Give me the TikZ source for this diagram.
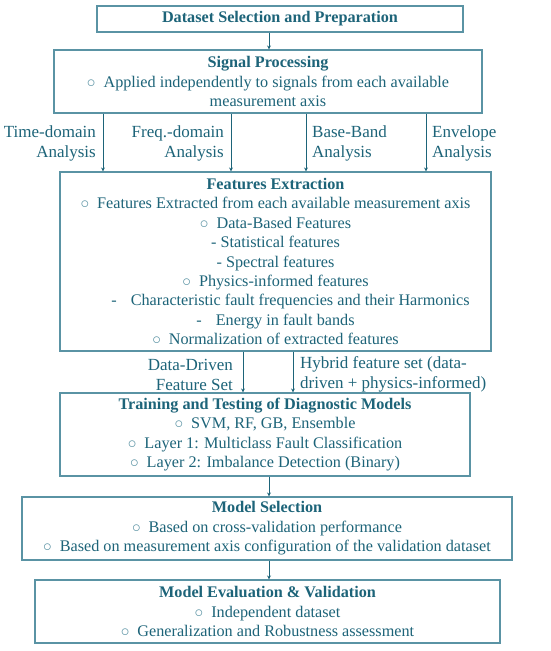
\documentclass[tikz,border=0pt]{standalone}
\usepackage{fontspec}
\setmainfont{Liberation Serif}
\usetikzlibrary{arrows.meta}
\definecolor{tealtxt}{HTML}{1D6479}
\definecolor{tealline}{HTML}{5A93A4}
\newcommand{\bul}{{\color{tealline}$\circ$}\hspace{8pt}}
\begin{document}
\begin{tikzpicture}[x=1pt,y=-1pt,
  box/.style={draw=tealline, line width=1.1pt, text=tealtxt, align=center, inner sep=0pt, font=\fontsize{16.2}{19.4}\selectfont},
  lbl/.style={text=tealtxt, inner sep=0pt, font=\fontsize{17}{20}\selectfont},
  arr/.style={-{Stealth[length=4pt,width=4pt]}, draw=tealtxt, line width=1pt}]
\useasboundingbox[fill=white] (0,0) rectangle (550,651);

\node[box, minimum width=366, minimum height=26] (ds) at (280,19) {\textbf{Dataset Selection and Preparation}};

\node[box, minimum width=428, minimum height=63] (sp) at (268,81.5)
 {\textbf{Signal Processing}\\
  \bul Applied independently to signals from each available\\
  measurement axis};

\node[box, minimum width=431, minimum height=179] (fe) at (275.5,261.5)
 {\textbf{Features Extraction}\\
  \bul Features Extracted from each available measurement axis\\
  \bul Data-Based Features\\
  - Statistical features\\
  - Spectral features\\
  \bul Physics-informed features\\
  \hspace*{30pt}-\hspace{14pt}Characteristic fault frequencies and their Harmonics\\
  -\hspace{14pt}Energy in fault bands\\
  \bul Normalization of extracted features};

\node[box, minimum width=410, minimum height=83] (tt) at (265,434.5)
 {\textbf{Training and Testing of Diagnostic Models}\\
  \bul SVM, RF, GB, Ensemble\\
  \bul Layer 1: Multiclass Fault Classification\\
  \bul Layer 2: Imbalance Detection (Binary)};

\node[box, minimum width=490, minimum height=63] (ms) at (267,528.5)
 {\textbf{Model Selection}\\
  \bul Based on cross-validation performance\\
  \bul Based on measurement axis configuration of the validation dataset};

\node[box, minimum width=465, minimum height=63] (me) at (267.5,611.5)
 {\textbf{Model Evaluation \& Validation}\\
  \bul Independent dataset\\
  \bul Generalization and Robustness assessment};

% labels
\node[lbl, anchor=east, align=right] (l1) at (96,143) {Time-domain\\Analysis};
\node[lbl, anchor=east, align=right] (l2) at (224,143) {Freq.-domain\\Analysis};
\node[lbl, anchor=west, align=left] (l3) at (312,143) {Base-Band\\Analysis};
\node[lbl, anchor=west, align=left] (l4) at (432,143) {Envelope\\Analysis};
\node[lbl, anchor=east, align=right] (l5) at (233,374.5) {Data-Driven\\Feature Set};
\node[lbl, anchor=west, align=left] (l6) at (300,374.5) {Hybrid feature set (data-\\driven + physics-informed)};

% arrow columns
\coordinate (c0) at (269,0);
\coordinate (c1) at (103,0);
\coordinate (c2) at (231,0);
\coordinate (c3) at (306,0);
\coordinate (c4) at (426,0);
\coordinate (c5) at (243,0);
\coordinate (c6) at (293,0);

\draw[arr] (ds.south -| c0) -- (sp.north -| c0);
\draw[arr] (sp.south -| c1) -- (fe.north -| c1);
\draw[arr] (sp.south -| c2) -- (fe.north -| c2);
\draw[arr] (sp.south -| c3) -- (fe.north -| c3);
\draw[arr] (sp.south -| c4) -- (fe.north -| c4);
\draw[arr] (fe.south -| c5) -- (tt.north -| c5);
\draw[arr] (fe.south -| c6) -- (tt.north -| c6);
\draw[arr] (tt.south -| c0) -- (ms.north -| c0);
\draw[arr] (ms.south -| c0) -- (me.north -| c0);
\end{tikzpicture}
\end{document}
